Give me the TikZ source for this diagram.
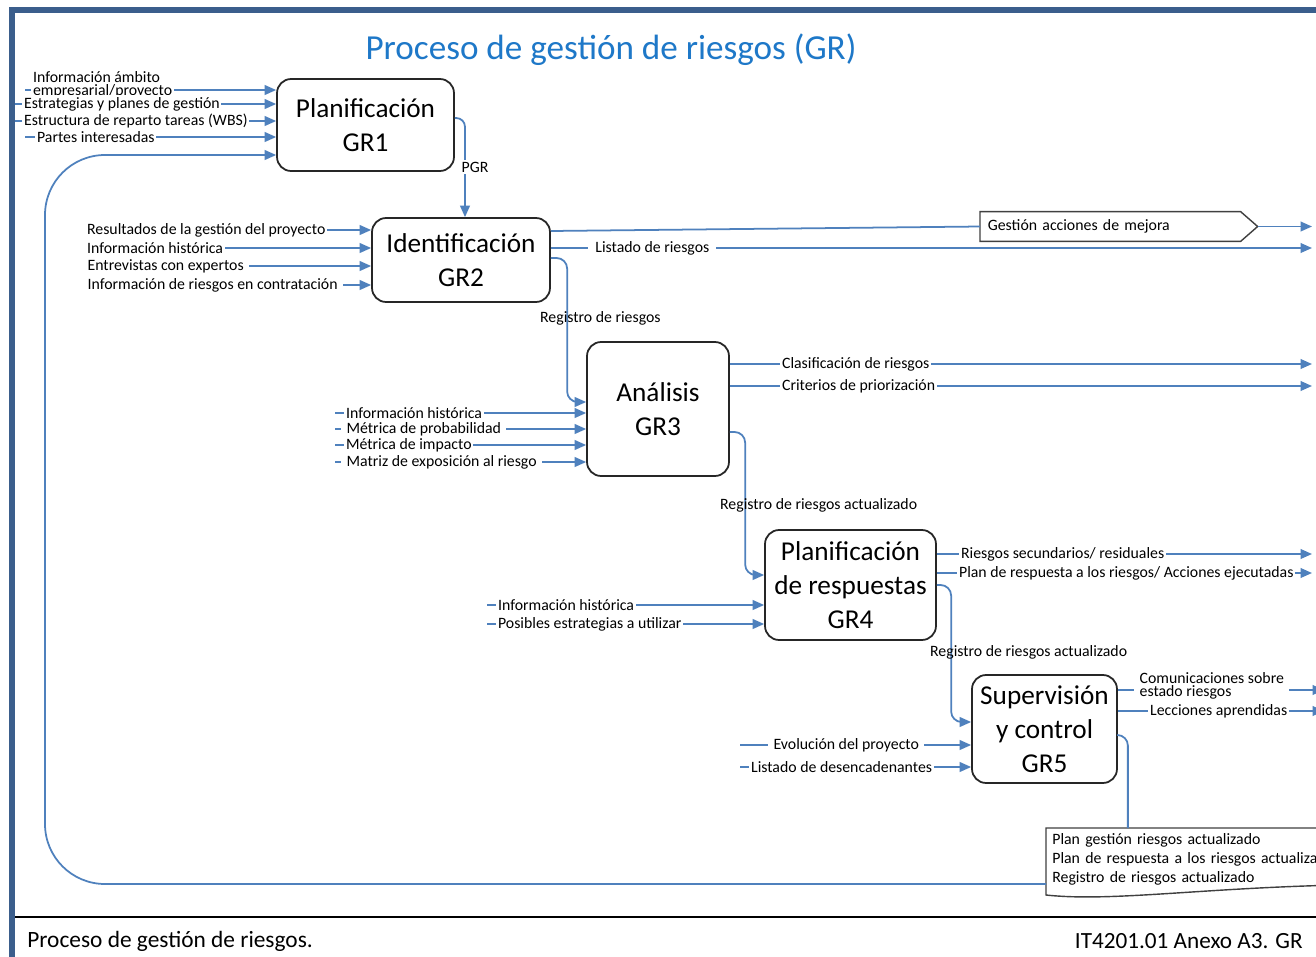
\documentclass[tikz,border=0pt]{standalone}
\usepackage{fontspec}
\setmainfont{Carlito}
\usetikzlibrary{arrows.meta,calc}
\definecolor{cblue}{RGB}{79,129,189}
\definecolor{frameblue}{RGB}{59,94,140}
\definecolor{titleblue}{RGB}{30,120,200}
\newcommand{\lblfont}{\fontsize{9}{11}\selectfont}
\begin{document}
\begin{tikzpicture}[x=0.02cm,y=-0.02cm,
  conn/.style={draw=cblue,line width=1pt},
  arr/.style={conn,-{Triangle[length=6.5pt,width=5.5pt]}},
  lbl/.style={font=\lblfont,fill=white,inner sep=1pt,anchor=west},
  lbln/.style={font=\lblfont,inner sep=1pt,anchor=west},
  procbox/.style={draw=black!85,line width=1pt,rounded corners=8pt,align=center,inner sep=0pt,font=\fontsize{15.5}{19.5}\selectfont},
  ]
\useasboundingbox (0,0) rectangle (1316,957);
\fill[white] (0,0) rectangle (1316,957);

% frame
\draw[frameblue,line width=3.4pt] (12,965) -- (12,10) -- (1330,10);
\draw[black,line width=1pt] (15,917) -- (1330,917);

% title and footer
\node[font=\fontsize{20}{24}\selectfont,text=titleblue] (title) at (611,50) {Proceso de gestión de riesgos (GR)};
\node[font=\fontsize{13.3}{15}\selectfont,anchor=west,inner sep=0pt] (foot1) at (27,941) {Proceso de gestión de riesgos.};
\node[font=\fontsize{13.2}{15}\selectfont,anchor=east,inner sep=0pt] (foot2) at (1303,941) {IT4201.01 Anexo A3. GR};

% process boxes
\node[procbox,minimum width=3.54cm,minimum height=1.84cm] (gr1) at (365.5,125) {Planificación\\GR1};
\node[procbox,minimum width=3.56cm,minimum height=1.68cm] (gr2) at (461,260) {Identificación\\GR2};
\node[procbox,minimum width=2.84cm,minimum height=2.68cm] (gr3) at (658,409) {Análisis\\GR3};
\node[procbox,minimum width=3.42cm,minimum height=2.2cm] (gr4) at (850.5,585) {Planificación\\de respuestas\\GR4};
\node[procbox,minimum width=2.9cm,minimum height=2.16cm] (gr5) at (1044.5,729) {Supervisión\\y control\\GR5};

% improvement actions pentagon
\node[anchor=west,minimum width=5.2cm,minimum height=0.58cm,inner xsep=0.14cm,inner ysep=0pt,align=left,text width=4.9cm,font=\lblfont] (gam) at (980,226.5) {Gestión acciones de mejora};
\coordinate (gamtip) at ($(gam.east)+(17,0)$);
\draw[draw=black!75,line width=0.8pt] (gam.north west) -- (gam.north east) -- (gamtip) -- (gam.south east) -- (gam.south west) -- cycle;

% document shape
\node[anchor=north west,inner xsep=0.12cm,inner ysep=0.1cm,align=left,font=\lblfont,text width=7cm] (doc) at (1046,828) {Plan gestión riesgos actualizado\\Plan de respuesta a los riesgos actualizado\\Registro de riesgos actualizado};
\draw[draw=black!75,line width=0.8pt] (1340,828) -- (doc.north west) -- ($(doc.north west)+(0,67)$) .. controls (1110,902) and (1200,888) .. (1340,885);

% right edge coordinate
\coordinate (rx) at (1312,0);
\coordinate (rx2) at (1324,0);

% ---------- GR1 ----------
\coordinate (a1) at (25,90);
\coordinate (a2) at (15,104);
\coordinate (a3) at (15,121);
\coordinate (a4) at (25,137);
\foreach \c in {a1,a2,a3,a4} \draw[arr] (\c) -- (\c -| gr1.west);
\node[lbl,align=left,font=\fontsize{9}{6}\selectfont] (l11) at (31,84.5) {Información ámbito\\empresarial/proyecto};
\node[lbl] (l12) at (22,104) {Estrategias y planes de gestión};
\node[lbl] (l13) at (22,121) {Estructura de reparto tareas (WBS)};
\node[lbl] (l14) at (35,137) {Partes interesadas};

% GR1 -> GR2
\draw[arr,rounded corners=5pt] ($(gr1.east)+(0,-7)$) -| ($(gr2.north)+(4,0)$);
\node[font=\lblfont,fill=white,inner sep=1pt] (pgr) at (475,167) {PGR};

% feedback loop doc -> GR1
\coordinate (fb) at (0,155);
\draw[arr,rounded corners=1.2cm] ($(doc.north west)+(0,56)$) -- (45,884) -- (45,155) -- (fb -| gr1.west);

% ---------- GR2 ----------
\coordinate (b1) at (90,230);
\coordinate (b2) at (90,248);
\coordinate (b3) at (90,266);
\coordinate (b4) at (90,285);
\foreach \c in {b1,b2,b3,b4} \draw[arr] (\c) -- (\c -| gr2.west);
\node[lbl] (l21) at (85,230) {Resultados de la gestión del proyecto};
\node[lbl] (l22) at (85,248) {Información histórica};
\node[lbl,inner xsep=3pt] (l23) at (82,266) {Entrevistas con expertos};
\node[lbl,inner xsep=3pt] (l24) at (82,285) {Información de riesgos en contratación};

\draw[conn] ($(gr2.east)+(0,-29)$) -- (gam.west);
\draw[arr] (gamtip) -- (gamtip -| rx);
\coordinate (b5) at ($(gr2.east)+(0,-12)$);
\draw[arr] (b5) -- (b5 -| rx);
\node[lbl,inner xsep=4pt] (l25) at (588,248) {Listado de riesgos};

% GR2 -> GR3
\draw[arr,rounded corners=6pt] ($(gr2.east)+(0,-2)$) -| ($(gr3.west)+(-19,-7)$) -- ($(gr3.west)+(0,-7)$);
\node[lbln] (l26) at (538,318) {Registro de riesgos};

% ---------- GR3 ----------
\coordinate (c1) at (335,413);
\coordinate (c2) at (335,429);
\coordinate (c3) at (335,445);
\coordinate (c4) at (335,462);
\foreach \c in {c1,c2,c3,c4} \draw[arr] (\c) -- (\c -| gr3.west);
\node[lbl] (l31) at (344,413) {Información histórica};
\node[lbl,inner xsep=3pt] (l32) at (341,429) {Métrica de probabilidad};
\node[lbl] (l33) at (344,445) {Métrica de impacto};
\node[lbl,inner xsep=3pt] (l34) at (341,462) {Matriz de exposición al riesgo};

\coordinate (c5) at ($(gr3.east)+(0,-45)$);
\coordinate (c6) at ($(gr3.east)+(0,-23)$);
\draw[arr] (c5) -- (c5 -| rx);
\draw[arr] (c6) -- (c6 -| rx);
\node[lbl] (l35) at (780,364) {Clasificación de riesgos};
\node[lbl] (l36) at (780,386) {Criterios de priorización};

% GR3 -> GR4
\draw[arr,rounded corners=6pt] ($(gr3.east)+(0,23)$) -| ($(gr4.west)+(-19,-10)$) -- ($(gr4.west)+(0,-10)$);
\node[lbln] (l37) at (718,505) {Registro de riesgos actualizado};

% ---------- GR4 ----------
\coordinate (d1) at (487,605);
\coordinate (d2) at (487,624);
\foreach \c in {d1,d2} \draw[arr] (\c) -- (\c -| gr4.west);
\node[lbl] (l41) at (496,605) {Información histórica};
\node[lbl] (l42) at (496,624) {Posibles estrategias a utilizar};

\coordinate (d3) at ($(gr4.east)+(0,-31)$);
\coordinate (d4) at ($(gr4.east)+(0,-12)$);
\draw[arr] (d3) -- (d3 -| rx);
\draw[arr] (d4) -- (d4 -| rx);
\node[lbl] (l43) at (959,554) {Riesgos secundarios/ residuales};
\node[lbl] (l44) at (957,573) {Plan de respuesta a los riesgos/ Acciones ejecutadas};

% GR4 -> GR5
\draw[arr,rounded corners=6pt] (gr4.east) -| ($(gr5.west)+(-20,-7)$) -- ($(gr5.west)+(0,-7)$);
\node[lbln] (l45) at (928,652) {Registro de riesgos actualizado};

% ---------- GR5 ----------
\coordinate (e1) at (740,745);
\coordinate (e2) at (740,767);
\foreach \c in {e1,e2} \draw[arr] (\c) -- (\c -| gr5.west);
\node[lbl,inner xsep=3pt] (l51) at (768,745) {Evolución del proyecto};
\node[lbl] (l52) at (749,767) {Listado de desencadenantes};

\coordinate (e3) at ($(gr5.east)+(0,-39)$);
\coordinate (e4) at ($(gr5.east)+(0,-18)$);
\draw[arr] (e3) -- (e3 -| rx2);
\draw[arr] (e4) -- (e4 -| rx2);
\node[lbl,align=left,font=\fontsize{9}{6}\selectfont,inner xsep=3pt] (l53) at (1134,686) {Comunicaciones sobre\\estado riesgos};
\node[lbl] (l54) at (1148,711) {Lecciones aprendidas};

% GR5 -> document
\coordinate (g5o) at ($(gr5.east)+(10,6)$);
\draw[conn,rounded corners=6pt] ($(gr5.east)+(0,6)$) -- (g5o) -- (g5o |- doc.north);

\end{tikzpicture}
\end{document}
